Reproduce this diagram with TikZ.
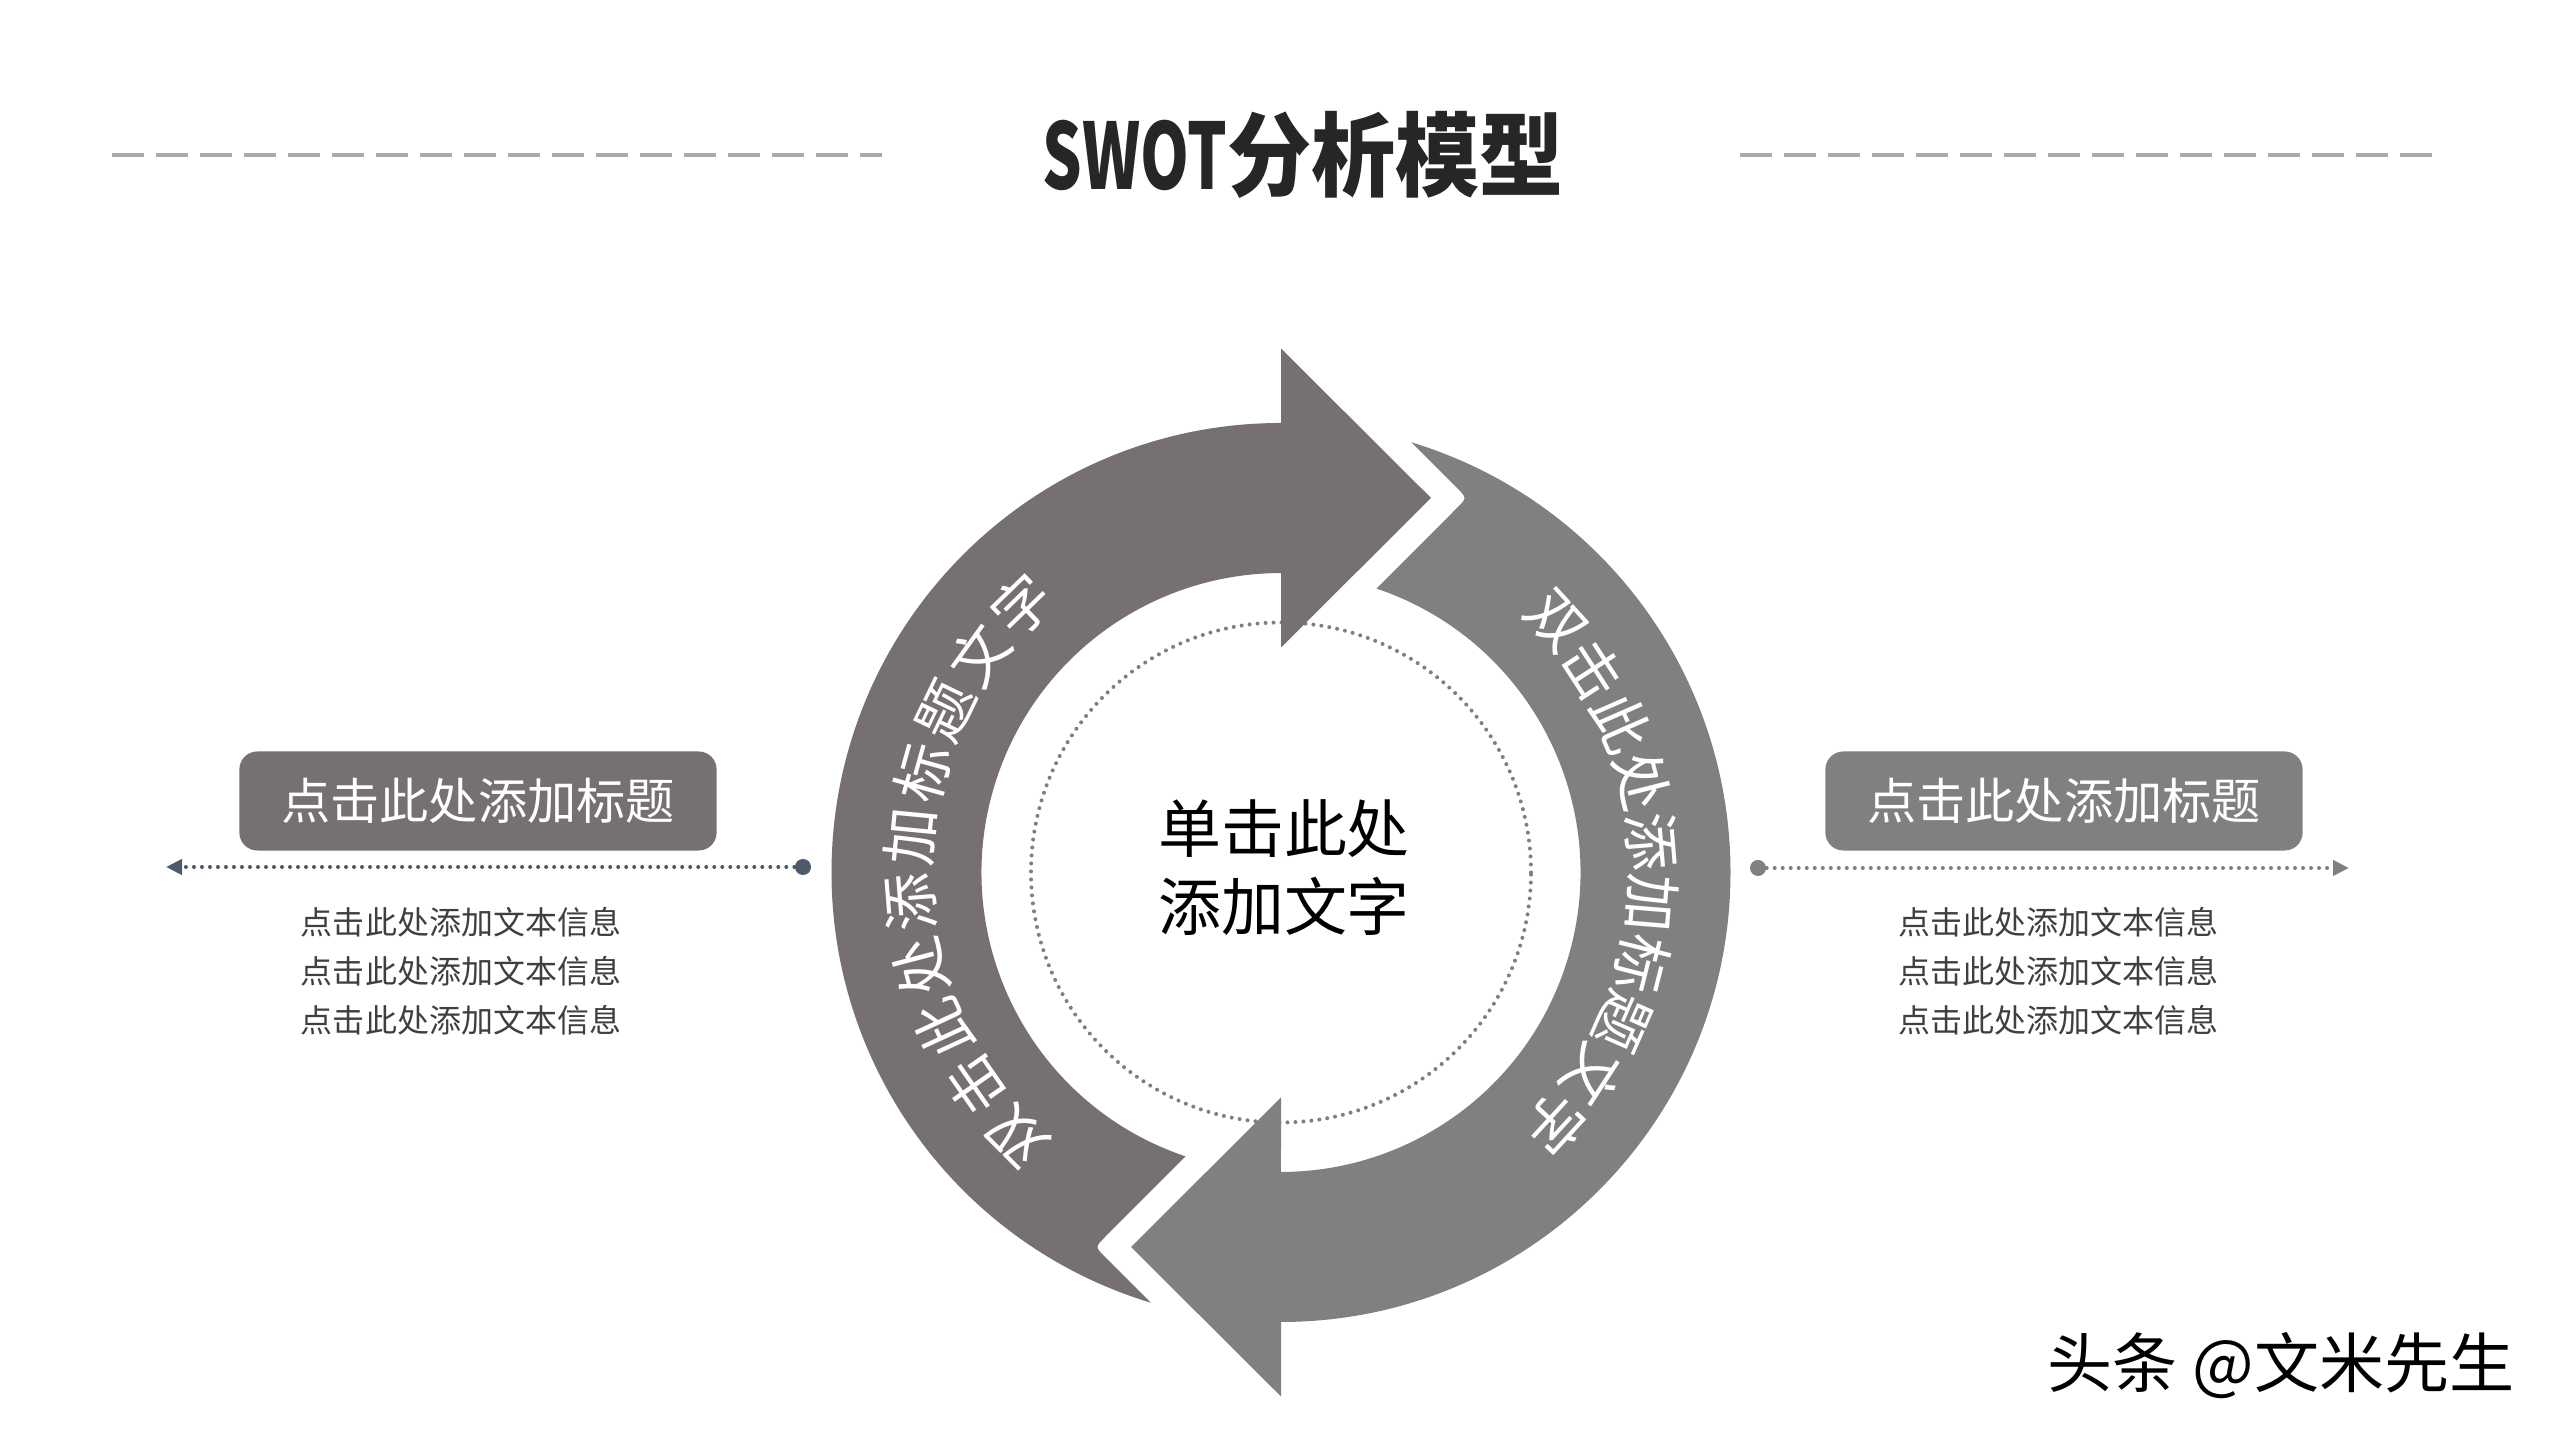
\documentclass[tikz,border=0pt]{standalone}
\usepackage{fontspec}
\usepackage{graphicx}
\setmainfont{Noto Sans CJK SC}
\usetikzlibrary{arrows.meta,calc}
\definecolor{darkarr}{HTML}{767170}
\definecolor{grayarr}{HTML}{808080}
\definecolor{dashc}{HTML}{ABA8A8}
\definecolor{slate}{HTML}{4E5A6B}
\definecolor{bodytxt}{HTML}{3F3F3F}
\definecolor{titletxt}{HTML}{262626}
\definecolor{dotc}{HTML}{7F7F7F}
\newcommand{\fsz}[1]{\fontsize{#1}{1.2\dimexpr#1\relax}\selectfont}
\begin{document}
\begin{tikzpicture}[x=0.01cm,y=0.01cm,
  dashline/.style={draw=dashc,line width=0.04cm,dash pattern=on 0.32cm off 0.12cm},
  boxtitle/.style={rounded corners=0.18cm,minimum width=4.77cm,minimum height=0.99cm,inner sep=0pt,text=white,font=\fsz{14pt}},
  bodyline/.style={text=bodytxt,font=\fsz{9.1pt},inner sep=0pt},
  dotline/.style={line width=0.04cm,dash pattern=on 0pt off 0.08cm,line cap=round},
  enddot/.style={circle,inner sep=0pt,minimum size=0.16cm},
  arctext/.style={text=white,font=\fsz{16.5pt},inner sep=0pt},
  arrowbody/.pic={
    \fill (150,374.5) -- (0,524) -- (0,449.5)
      arc[start angle=90,end angle=253.15,radius=449.5]
      -- (-176,-384.5) .. controls (-186,-374.5) .. (-176,-364.5)
      -- (-95.5,-283.9)
      arc[start angle=251.4,end angle=90,radius=299.5]
      -- (0,225) -- cycle;
  }]
\useasboundingbox (0,0) rectangle (2560,1440);
\fill[white] (0,0) rectangle (2560,1440);

% title and dashed rules
\node[text=titletxt,font=\fsz{26pt}\bfseries,inner sep=0pt] (title) at (1303,1285)
  {\scalebox{0.68}[1]{SWOT}\scalebox{0.92}[1]{分析模型}};
\coordinate (dl1) at (112,1285); \coordinate (dl2) at (882,1285);
\coordinate (dr1) at (1740,1285); \coordinate (dr2) at (2433,1285);
\draw[dashline] (dl1) -- (dl2);
\draw[dashline] (dr1) -- (dr2);

% dotted inner circle
\coordinate (C) at (1281,567.5);
\draw[dotc,dotline] (C) circle[radius=250];

% circular arrows
\pic[darkarr] at (C) {arrowbody};
\pic[grayarr,rotate=180] at (C) {arrowbody};

% center text
\node[text=black,font=\fsz{17.9pt},inner sep=0pt] (c1) at (1284,611) {单击此处};
\node[text=black,font=\fsz{17.9pt},inner sep=0pt] (c2) at (1284,534) {添加文字};

% curved texts
\foreach \ch [count=\i from 0] in {双,击,此,处,添,加,标,题,文,字}{
  \pgfmathsetmacro{\aL}{225-\i*10.1}
  \pgfmathsetmacro{\aR}{42.5-\i*9.45}
  \node[arctext,rotate=\aL-90] (lt\i) at ($(C)+(\aL:372)$) {\ch};
  \node[arctext,rotate=\aR-90] (rt\i) at ($(C)+(\aR:372)$) {\ch};
}

% left block
\node[boxtitle,fill=darkarr] (lbox) at (478,639) {点击此处添加标题};
\node[enddot,fill=slate] (ldot) at (803,573) {};
\coordinate (lend) at (166,573);
\draw[slate,dotline,-{Triangle[length=0.16cm,width=0.15cm,line cap=butt]}] (ldot) -- (lend);
\node[bodyline] (lb1) at (461,518) {点击此处添加文本信息};
\node[bodyline] (lb2) at (461,469) {点击此处添加文本信息};
\node[bodyline] (lb3) at (461,420) {点击此处添加文本信息};

% right block
\node[boxtitle,fill=grayarr] (rbox) at (2064,639) {点击此处添加标题};
\node[enddot,fill=grayarr] (rdot) at (1758,572) {};
\coordinate (rend) at (2349,572);
\draw[grayarr,dotline,-{Triangle[length=0.16cm,width=0.15cm,line cap=butt]}] (rdot) -- (rend);
\node[bodyline] (rb1) at (2058,518) {点击此处添加文本信息};
\node[bodyline] (rb2) at (2058,469) {点击此处添加文本信息};
\node[bodyline] (rb3) at (2058,420) {点击此处添加文本信息};

% watermark
\node[text=black,font=\fsz{18.5pt},inner sep=0pt] (wm) at (2281,74) {头条 @文米先生};
\end{tikzpicture}
\end{document}
